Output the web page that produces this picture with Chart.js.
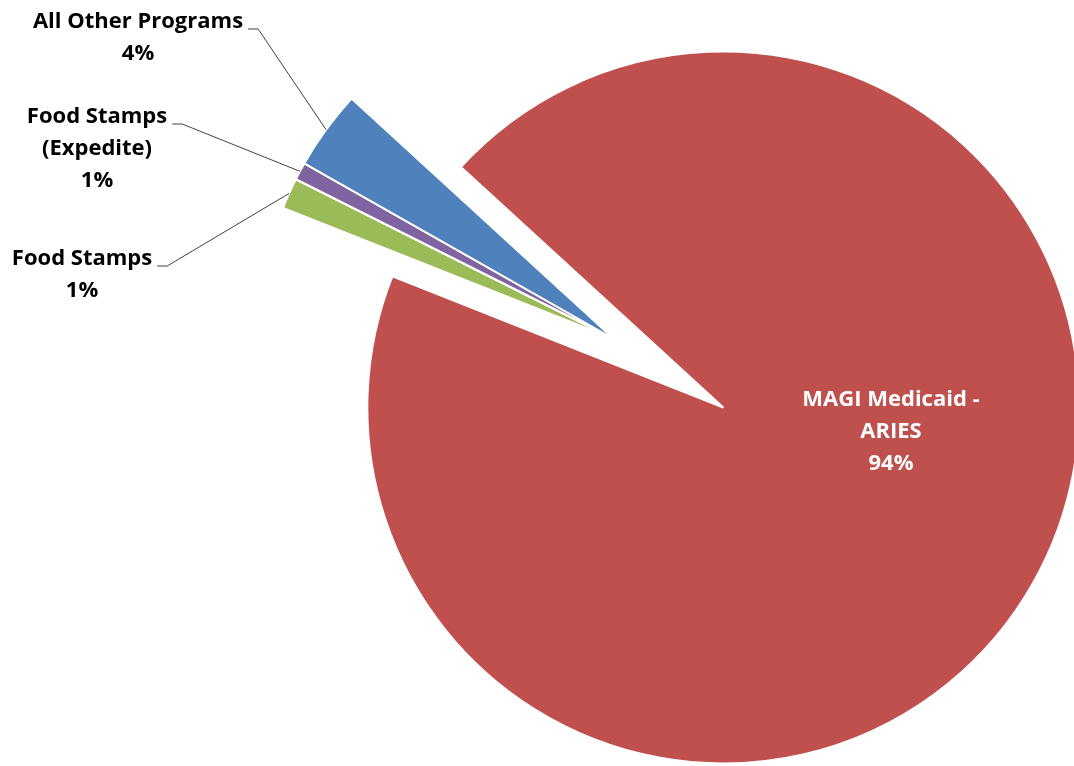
<!DOCTYPE html>
<html>
<head>
<meta charset="utf-8">
<script src="https://cdn.jsdelivr.net/npm/chart.js@4.4.1/dist/chart.umd.min.js"></script>
<style>
  html, body { margin: 0; padding: 0; background: #fff; }
</style>
</head>
<body>
<canvas id="pieChart" width="1074" height="766"></canvas>
<script>
// slice data (clockwise from the upper edge of the big slice)
const programs = ['MAGI Medicaid - ARIES', 'Food Stamps', 'Food Stamps (Expedite)', 'All Other Programs'];
const labelLines = [['MAGI Medicaid -', 'ARIES'], ['Food Stamps'], ['Food Stamps', '(Expedite)'], ['All Other Programs']];
const shares = [94.2, 1.4, 0.8, 3.6];

const sliceColors = ['#C0504D', '#9BBB59', '#8064A2', '#4F81BD'];
// only the big slice is pulled out (px along its mid angle)
const explode = [129, 0, 0, 0];

// label placement (center of first text line), leader lines for small slices
const labelSpots = [
    { x: 891, y: 400, color: '#fff', leader: false },
    { x: 82, y: 259, color: '#000', leader: true },
    { x: 97, y: 117, color: '#000', leader: true },
    { x: 138, y: 22, color: '#000', leader: true }
];
const lineHeight = 32;

function shiftOf(arc, i) {
    const mid = (arc.startAngle + arc.endAngle) / 2;
    return { mid, dx: Math.cos(mid) * explode[i], dy: Math.sin(mid) * explode[i] };
}

// draw every arc moved out by its explode distance
const explodedArcs = {
    id: 'explodedArcs',
    beforeDatasetDraw(chart, args) {
        const ctx = chart.ctx;
        args.meta.data.forEach((arc, i) => {
            const s = shiftOf(arc, i);
            ctx.save();
            ctx.translate(s.dx, s.dy);
            arc.draw(ctx);
            ctx.restore();
        });
        return false;
    }
};

const sliceLabels = {
    id: 'sliceLabels',
    afterDatasetsDraw(chart) {
        const ctx = chart.ctx;
        const meta = chart.getDatasetMeta(0);
        const total = shares.reduce((a, b) => a + b, 0);
        ctx.save();
        ctx.font = 'bold 22px "Open Sans"';
        ctx.textAlign = 'center';
        ctx.textBaseline = 'middle';
        meta.data.forEach((arc, i) => {
            const spot = labelSpots[i];
            const lines = labelLines[i].concat(Math.round(shares[i] / total * 100) + '%');
            ctx.fillStyle = spot.color;
            lines.forEach((t, k) => ctx.fillText(t, spot.x, spot.y + k * lineHeight));

            if (spot.leader) {
                const s = shiftOf(arc, i);
                const px = arc.x + s.dx + Math.cos(s.mid) * arc.outerRadius;
                const py = arc.y + s.dy + Math.sin(s.mid) * arc.outerRadius;
                const w = ctx.measureText(labelLines[i][0]).width;
                const sx = spot.x + w / 2 + 5;
                const sy = spot.y + 7;
                ctx.beginPath();
                ctx.strokeStyle = '#404040';
                ctx.lineWidth = 1;
                ctx.moveTo(sx, sy);
                ctx.lineTo(sx + 10, sy);
                ctx.lineTo(px, py);
                ctx.stroke();
            }
        });
        ctx.restore();
    }
};

const ctx = document.getElementById('pieChart').getContext('2d');
const chart = new Chart(ctx, {
    type: 'pie',
    data: {
        labels: programs,
        datasets: [{
            data: shares,
            backgroundColor: sliceColors,
            borderColor: '#fff',
            borderWidth: 2,
            clip: false
        }]
    },
    options: {
        responsive: false,
        animation: false,
        rotation: -47.5,
        radius: 356,
        layout: {
            padding: { left: 154, right: 0, top: 0, bottom: 88 }
        },
        plugins: {
            legend: { display: false },
            tooltip: { enabled: false }
        }
    },
    plugins: [explodedArcs, sliceLabels]
});
</script>
</body>
</html>
